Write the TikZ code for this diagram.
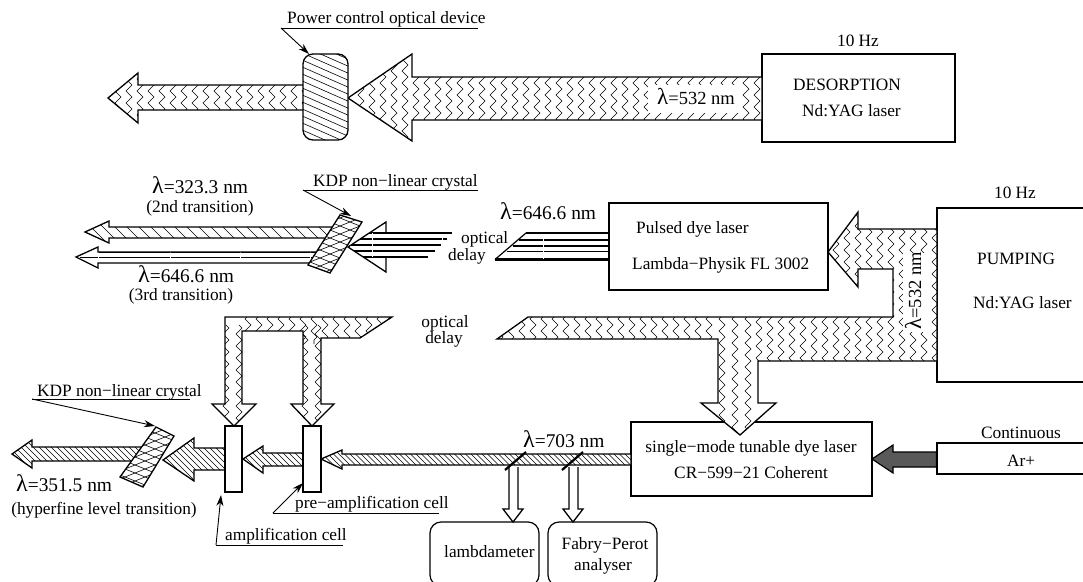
\documentclass[tikz,border=0pt]{standalone}
\usepackage{fontspec}
\setmainfont{Liberation Serif}
\usetikzlibrary{arrows.meta,decorations.pathmorphing}
\newcommand\fsN{\fontsize{17.3}{19}\selectfont}
\newcommand\fsL{\fontsize{19.4}{21}\selectfont}
\newcommand\lam[1]{{\fontsize{24}{21}\selectfont λ}{\fsL #1}}
\newcommand\lams[1]{{\fontsize{23}{21}\selectfont λ}{\fontsize{18.5}{21}\selectfont #1}}
% #1 path, #2 pattern
\newcommand\beamfill[2]{\fill[white] #1;\begin{scope}\clip #1;#2\end{scope}\draw[beamline] #1;}
% zigzag columns: #1 first x, #2 second x, #3 last x, #4 ymin, #5 ymax
\newcommand\zigs[5]{\foreach \zx in {#1,#2,...,#3}{\draw[zigline] (\zx,#4) -- (\zx,#5);}}
% straight hatch: #1 x0, #2 x1, #3 xN, #4 y0, #5 y1, #6 horizontal run
\newcommand\hatchl[6]{\foreach \zx in {#1,#2,...,#3}{\draw[hatchline] (\zx,#4) -- ({\zx+#6},#5);}}
\tikzset{
  x=1pt,y=-1pt,
  beamline/.style={draw=black,line width=1.3pt,line join=miter},
  zigline/.style={line width=.6pt,decorate,decoration={zigzag,segment length=12pt,amplitude=3pt}},
  hatchline/.style={line width=.6pt},
  boxn/.style={draw=black,line width=1.2pt,fill=white,rectangle,inner sep=0pt},
  tx/.style={inner sep=0pt,anchor=base,font=\fsN},
  txw/.style={inner sep=0pt,anchor=base west,font=\fsN},
  leader/.style={line width=.9pt,-{Stealth[length=11pt,width=7pt]}},
  uline/.style={line width=.9pt},
  gap/.style={white,line width=.7pt},
  dline/.style={line width=1.2pt},
}
\begin{document}
\begin{tikzpicture}
\clip (0,0) rectangle (1083,581);
\fill[white] (0,0) rectangle (1083,581);

%% ---------- boxes ----------
\node[boxn,minimum width=193pt,minimum height=88pt] (desorp) at (858.5,98) {};
\node[boxn,minimum width=219pt,minimum height=87pt] (pulsed) at (718.5,246.5) {};
\node[boxn,minimum width=170pt,minimum height=174pt] (pumping) at (1022,295) {};
\node[boxn,minimum width=241pt,minimum height=74pt] (single) at (751.5,459) {};
\node[boxn,minimum width=170pt,minimum height=31pt] (arbox) at (1022,458.5) {};
\node[boxn,rounded corners=11pt,minimum width=109pt,minimum height=64pt] (lambdam) at (484.5,554) {};
\node[boxn,rounded corners=11pt,minimum width=109pt,minimum height=64pt] (fabry) at (602.5,554) {};

%% ---------- top beam ----------
\beamfill{(108,98) -- (138,73) -- (138,85) -- (310,85) -- (310,110) -- (138,110) -- (138,123) -- cycle}{\zigs{118}{129}{305}{70}{126}}
\beamfill{(348,98) -- (412,54) -- (412,77) -- (762,77) -- (762,120) -- (412,120) -- (412,141) -- cycle}{\zigs{361}{372}{760}{50}{146}\fill[white] (648,85) rectangle (742,113);}
\beamfill{(318,54) [rounded corners=10pt] -- (348,54) -- (348,140) -- (303,140) -- (303,54) [sharp corners] -- cycle}{\foreach \zy in {10,17,...,150}{\draw[hatchline] (300,\zy) -- (350,{\zy+22});}}
\node[inner sep=0pt,anchor=base west] (l532a) at (657,104) {\lams{=532 nm}};

%% ---------- second row ----------
\beamfill{(85,232) -- (109,221) -- (109,227) -- (350,227) -- (350,238) -- (109,238) -- (109,243) -- cycle}{\hatchl{60}{72}{345}{220}{245}{25}}
\beamfill{(76,257) -- (98,247) -- (98,252) -- (330,252) -- (330,263) -- (98,263) -- (98,268) -- cycle}{\draw[dline] (80,257.5) -- (330,257.5);\draw[line width=2pt] (98,252) -- (330,252);\foreach \zx in {98,170,240,310}{\draw[gap] (\zx,252) -- (\zx,263);}}
% delayed beam, head and staggered lines
\fill[white] (348,247) -- (386,222) -- (386,272) -- cycle;
\begin{scope}
\clip (348,247) -- (386,222) -- (386,272) -- cycle;
\foreach \zy in {233,239,245,251,257}{\draw[dline] (340,\zy) -- (386,\zy);}
\end{scope}
\draw[beamline] (386,233) -- (386,222) -- (348,247) -- (386,272) -- (386,257);
\draw[dline] (386,233) -- (452,233);
\draw[dline] (386,239) -- (447,239);
\draw[dline] (386,245) -- (441,245);
\draw[dline] (386,251) -- (435,251);
\draw[line width=2pt] (386,257) -- (428,257);
\draw[gap] (372,233) -- (372,257);
\draw[gap] (442,238) -- (442,240);
% crystal 1
\beamfill{(340,215) -- (362,222) -- (330,273) -- (308,265) -- cycle}{\foreach \zy in {170,178,...,290}{\draw[hatchline] (300,\zy) -- (370,{\zy+28});\draw[hatchline] (300,\zy) -- (370,{\zy-28});}}
% dye laser output
\draw[line width=1.7pt] (526,233) -- (609,233);
\draw[dline] (519,240) -- (609,240);
\draw[dline] (513,246) -- (609,246);
\draw[dline] (507,251.5) -- (609,251.5);
\draw[line width=2.2pt] (495,259.5) -- (609,259.5);
\draw[dline] (526,233) -- (495,259.5);
\draw[gap] (543,234) -- (543,259);

%% ---------- pump beams ----------
\newcommand\pumppath{(828,252) -- (858,212) -- (858,229) -- (937,229) -- (937,361) -- (758,361) -- (758,403) -- (776,403) -- (740,435) -- (701,403) -- (718,403) -- (718,339) -- (497,339) -- (528,317) -- (893,317) -- (893,269) -- (858,269) -- (858,287) -- cycle}
\beamfill{\pumppath}{\zigs{759}{770}{936}{205}{370}\zigs{500}{511}{716}{310}{345}\zigs{722}{735}{750}{310}{440}\fill[white] (903,253) rectangle (929,332);}
\node[inner sep=0pt,rotate=90,anchor=base west] (l532b) at (921,330) {\lams{=532 nm}};

\newcommand\armpath{(234,426) -- (212,404) -- (225,404) -- (225,317) -- (392,317) -- (360,338) -- (321,338) -- (321,404) -- (334,404) -- (312,426) -- (291,404) -- (303,404) -- (303,331) -- (242,331) -- (242,404) -- (256,404) -- cycle}
\beamfill{\armpath}{\zigs{226}{239}{240}{325}{430}\zigs{305}{318}{320}{325}{430}\zigs{248}{259}{392}{310}{344}}

%% ---------- bottom beam ----------
\beamfill{(321,459) -- (342,450) -- (342,454) -- (631,454) -- (631,465) -- (342,465) -- (342,469) -- cycle}{\hatchl{300}{305.5}{631}{448}{471}{23}}
\beamfill{(243,459) -- (263,446) -- (263,453) -- (303,453) -- (303,466) -- (263,466) -- (263,473) -- cycle}{\hatchl{220}{226}{304}{444}{475}{31}}
\beamfill{(163,460) -- (194,438) -- (194,448) -- (225,448) -- (225,470) -- (194,470) -- (194,481) -- cycle}{\hatchl{120}{126}{226}{436}{483}{47}}
\beamfill{(12,454) -- (32,440) -- (32,447) -- (150,447) -- (150,461) -- (32,461) -- (32,468) -- cycle}{\hatchl{-30}{-24}{150}{438}{470}{32}}
\beamfill{(156,427) -- (174,436) -- (143,487) -- (120,477) -- cycle}{\foreach \zy in {375,383,...,490}{\draw[hatchline] (110,\zy) -- (180,{\zy+28});\draw[hatchline] (110,{\zy+60}) -- (180,{\zy+32});}}
\node[boxn,minimum width=17pt,minimum height=66pt] (ampcell) at (233.5,459) {};
\node[boxn,minimum width=18pt,minimum height=66pt] (precell) at (312,459) {};

% analyser branches
\draw[beamline,fill=white] (509,467) -- (509,509) -- (503,509) -- (513,522) -- (523,509) -- (518,509) -- (518,467);
\draw[beamline,fill=white] (569,467) -- (569,509) -- (563,509) -- (573,522) -- (583,509) -- (578,509) -- (578,467);
\draw[line width=2.2pt] (505,470) -- (526,452);
\draw[line width=2.2pt] (562,470) -- (583,452);

% Ar+ pump
\draw[line width=1.2pt,fill=black!65] (arbox.west |- 0,452) -- (893,452) -- (893,445) -- (872,459) -- (893,473) -- (893,467) -- (arbox.west |- 0,467) -- cycle;

%% ---------- leaders ----------
\coordinate (pc0) at (281,28); \coordinate (pc1) at (478,28); \coordinate (pc2) at (309,54);
\draw[uline] (pc0) -- (pc1); \draw[leader] (pc0) -- (pc2);
\coordinate (kt0) at (303,190); \coordinate (kt1) at (478,190); \coordinate (kt2) at (351,216);
\draw[uline] (kt0) -- (kt1); \draw[leader] (kt0) -- (kt2);
\coordinate (kb0) at (32,399); \coordinate (kb1) at (190,399); \coordinate (kb2) at (155,426);
\draw[uline] (kb0) -- (kb1); \draw[leader] (kb0) -- (kb2);
\coordinate (pa0) at (273,513); \coordinate (pa1) at (439,513); \coordinate (pa2) at (303,483);
\draw[uline] (pa0) -- (pa1); \draw[leader] (pa0) -- (pa2);
\coordinate (am0) at (216,545); \coordinate (am1) at (343,545); \coordinate (am2) at (221,495);
\draw[uline] (am0) -- (am1); \draw[leader] (am0) -- (am2);

%% ---------- text ----------
\node[txw] (t1) at (287,23) {Power control optical device};
\node[tx] (t2) at (858,46) {10 Hz};
\node[txw] (t3) at (793,90) {DESORPTION};
\node[txw] (t4) at (802,116) {Nd:YAG laser};
\node[txw] (t5) at (152,193) {\lam{=323.3 nm}};
\node[tx] (t6) at (200,212) {(2nd transition)};
\node[txw] (t7) at (138,282) {\lam{=646.6 nm}};
\node[tx] (t8) at (181,300) {(3rd transition)};
\node[txw] (t9) at (313,186) {KDP non−linear crystal};
\node[txw] (t10) at (500,219) {\lam{=646.6 nm}};
\node[txw] (t11) at (461,243) {optical};
\node[txw] (t12) at (448,260) {delay};
\node[txw] (t13) at (636,233) {Pulsed dye laser};
\node[txw] (t14) at (632,269) {Lambda−Physik FL 3002};
\node[tx] (t15) at (1015,198) {10 Hz};
\node[txw] (t16) at (977,264) {PUMPING};
\node[txw] (t17) at (973,308) {Nd:YAG laser};
\node[tx] (t18) at (445,327) {optical};
\node[tx] (t19) at (444,343) {delay};
\node[txw] (t20) at (37,396) {KDP non−linear crystal};
\node[txw] (t21) at (16,491) {\lam{=351.5 nm}};
\node[tx] (t22) at (104,514) {(hyperfine level transition)};
\node[txw] (t23) at (295,508) {pre−amplification cell};
\node[txw] (t24) at (225,540) {amplification cell};
\node[txw] (t25) at (523,447) {\lam{=703 nm}};
\node[tx] (t26) at (751,452) {single−mode tunable dye laser};
\node[tx] (t27) at (751,478) {CR−599−21 Coherent};
\node[tx] (t28) at (1021,438) {Continuous};
\node[tx] (t29) at (1021,466) {Ar+};
\node[txw] (t30) at (444,557) {lambdameter};
\node[tx] (t31) at (605,549) {Fabry−Perot};
\node[tx] (t32) at (603,570) {analyser};
\end{tikzpicture}
\end{document}
